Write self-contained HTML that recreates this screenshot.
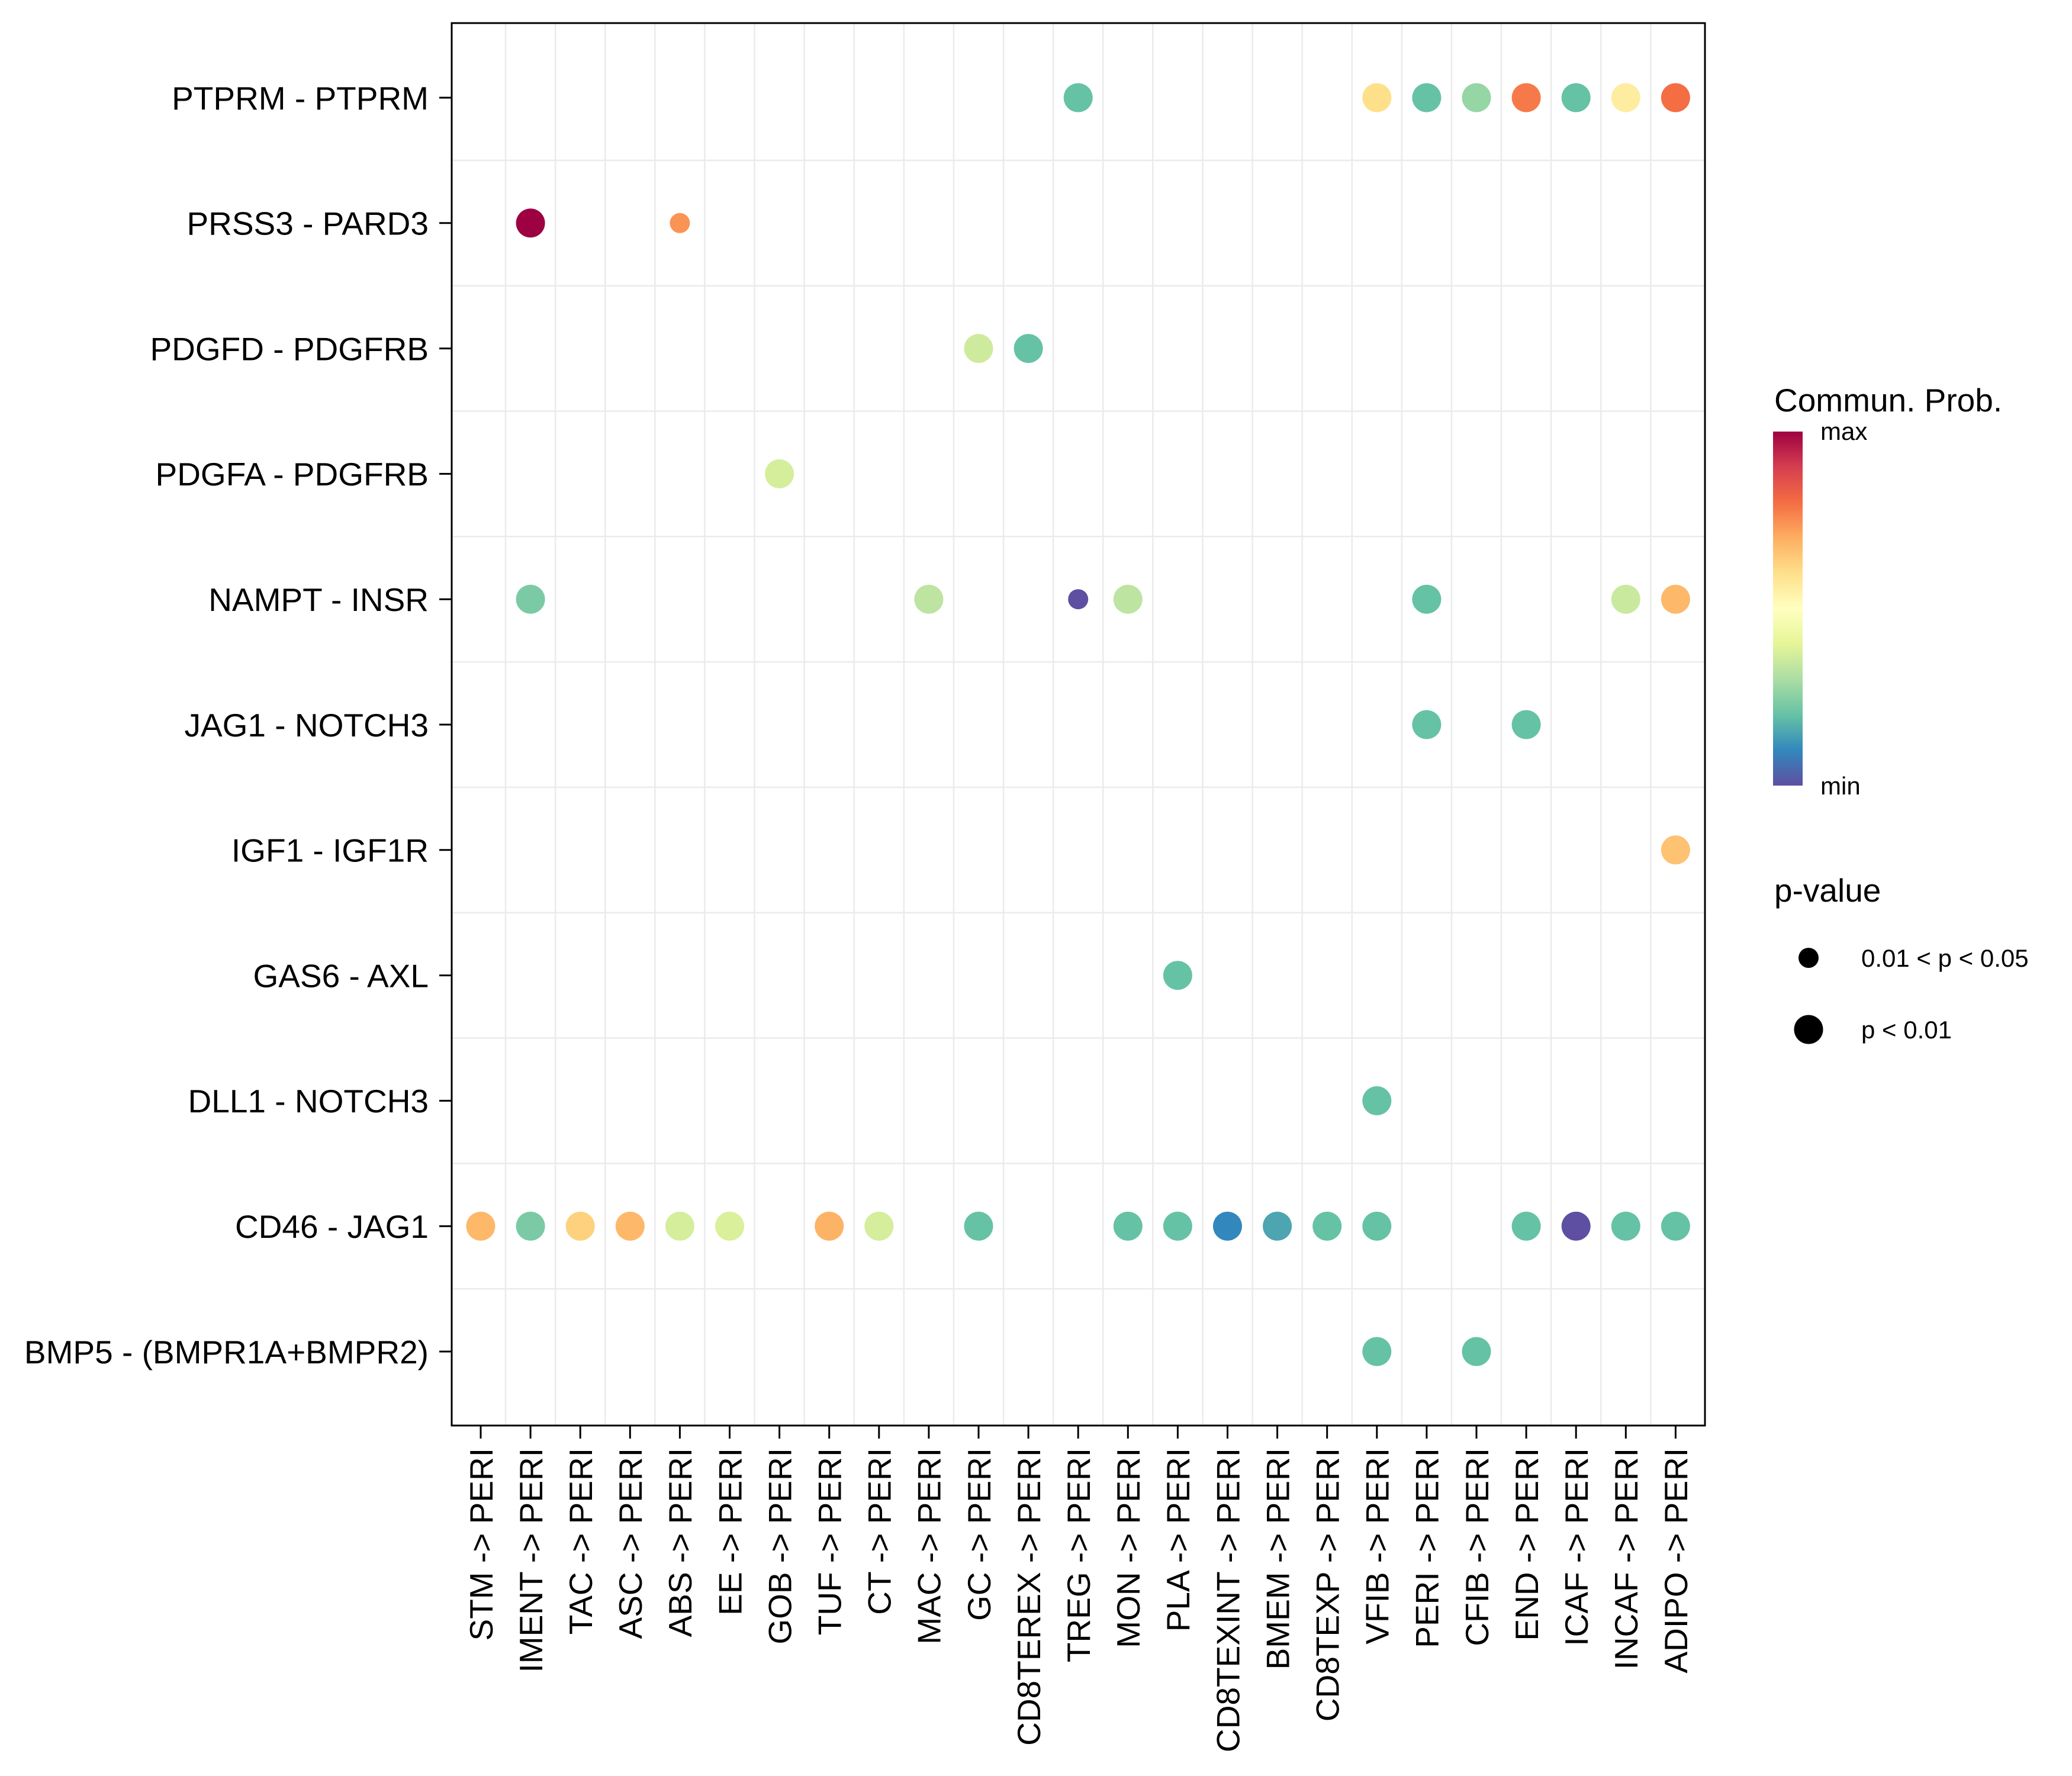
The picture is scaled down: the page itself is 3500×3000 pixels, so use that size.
<!DOCTYPE html>
<html><head><meta charset="utf-8"><style>
html,body{margin:0;padding:0;background:#fff;}
svg{display:block;font-family:"Liberation Sans",Arial,sans-serif;}
</style></head>
<body>
<svg id="chart" xmlns="http://www.w3.org/2000/svg" width="3500" height="3000" viewBox="0 0 3500 3000">
<defs>
<linearGradient id="spec" x1="0" y1="1" x2="0" y2="0">
<stop offset="0" stop-color="#5E4FA2"/><stop offset="0.1" stop-color="#3288BD"/><stop offset="0.2" stop-color="#66C2A5"/><stop offset="0.3" stop-color="#ABDDA4"/><stop offset="0.4" stop-color="#E6F598"/><stop offset="0.5" stop-color="#FFFFBF"/><stop offset="0.6" stop-color="#FEE08B"/><stop offset="0.7" stop-color="#FDAE61"/><stop offset="0.8" stop-color="#F46D43"/><stop offset="0.9" stop-color="#D53E4F"/><stop offset="1" stop-color="#9E0142"/>
</linearGradient>
</defs>
<rect x="0" y="0" width="3500" height="3000" fill="#fff"/>
<g id="grid"></g>
<g id="dots"></g>
<rect x="763" y="39" width="2117" height="2369" fill="none" stroke="#000" stroke-width="3"/>
<g id="yaxis"></g>
<g id="xaxis"></g>
<g>
<text x="2997" y="695" font-size="55">Commun. Prob.</text>
<rect x="2995" y="729" width="50" height="598" fill="url(#spec)"/>
<text x="3075" y="743" font-size="42">max</text>
<text x="3075" y="1342" font-size="42">min</text>
</g>
<g>
<text x="2997" y="1523" font-size="55">p-value</text>
<circle cx="3055" cy="1618" r="17" fill="#000"/>
<text x="3144" y="1633" font-size="42">0.01 &lt; p &lt; 0.05</text>
<circle cx="3055" cy="1739" r="24.5" fill="#000"/>
<text x="3144" y="1754" font-size="42">p &lt; 0.01</text>
</g>
</svg>
<script>
const pairs = ["PTPRM - PTPRM","PRSS3 - PARD3","PDGFD - PDGFRB","PDGFA - PDGFRB","NAMPT - INSR","JAG1 - NOTCH3","IGF1 - IGF1R","GAS6 - AXL","DLL1 - NOTCH3","CD46 - JAG1","BMP5 - (BMPR1A+BMPR2)"];
const sources = ["STM","IMENT","TAC","ASC","ABS","EE","GOB","TUF","CT","MAC","GC","CD8TEREX","TREG","MON","PLA","CD8TEXINT","BMEM","CD8TEXP","VFIB","PERI","CFIB","END","ICAF","INCAF","ADIPO"];
const target = "PERI";
const dotPair = ["PTPRM - PTPRM","PTPRM - PTPRM","PTPRM - PTPRM","PTPRM - PTPRM","PTPRM - PTPRM","PTPRM - PTPRM","PTPRM - PTPRM","PTPRM - PTPRM",
"PRSS3 - PARD3","PRSS3 - PARD3",
"PDGFD - PDGFRB","PDGFD - PDGFRB",
"PDGFA - PDGFRB",
"NAMPT - INSR","NAMPT - INSR","NAMPT - INSR","NAMPT - INSR","NAMPT - INSR","NAMPT - INSR","NAMPT - INSR",
"JAG1 - NOTCH3","JAG1 - NOTCH3",
"IGF1 - IGF1R",
"GAS6 - AXL",
"DLL1 - NOTCH3",
"CD46 - JAG1","CD46 - JAG1","CD46 - JAG1","CD46 - JAG1","CD46 - JAG1","CD46 - JAG1","CD46 - JAG1","CD46 - JAG1","CD46 - JAG1","CD46 - JAG1","CD46 - JAG1","CD46 - JAG1","CD46 - JAG1","CD46 - JAG1","CD46 - JAG1","CD46 - JAG1","CD46 - JAG1","CD46 - JAG1","CD46 - JAG1",
"BMP5 - (BMPR1A+BMPR2)","BMP5 - (BMPR1A+BMPR2)"];
const dotSource = ["TREG","VFIB","PERI","CFIB","END","ICAF","INCAF","ADIPO",
"IMENT","ABS",
"GC","CD8TEREX",
"GOB",
"IMENT","MAC","TREG","MON","PERI","INCAF","ADIPO",
"PERI","END",
"ADIPO",
"PLA",
"VFIB",
"STM","IMENT","TAC","ASC","ABS","EE","TUF","CT","GC","MON","PLA","CD8TEXINT","BMEM","CD8TEXP","VFIB","END","ICAF","INCAF","ADIPO",
"VFIB","CFIB"];
const dotProb = [0.2,0.6,0.2,0.27,0.78,0.2,0.56,0.8,
1.0,0.74,
0.36,0.2,
0.37,
0.23,0.33,0.0,0.33,0.2,0.35,0.68,
0.2,0.2,
0.66,
0.2,
0.2,
0.68,0.23,0.63,0.68,0.37,0.38,0.69,0.37,0.2,0.2,0.2,0.1,0.15,0.2,0.2,0.2,0.0,0.2,0.2,
0.2,0.2];
const dotSig = ["p<0.01","p<0.01","p<0.01","p<0.01","p<0.01","p<0.01","p<0.01","p<0.01",
"p<0.01","0.01<p<0.05",
"p<0.01","p<0.01",
"p<0.01",
"p<0.01","p<0.01","0.01<p<0.05","p<0.01","p<0.01","p<0.01","p<0.01",
"p<0.01","p<0.01",
"p<0.01",
"p<0.01",
"p<0.01",
"p<0.01","p<0.01","p<0.01","p<0.01","p<0.01","p<0.01","p<0.01","p<0.01","p<0.01","p<0.01","p<0.01","p<0.01","p<0.01","p<0.01","p<0.01","p<0.01","p<0.01","p<0.01","p<0.01",
"p<0.01","p<0.01"];

const NS="http://www.w3.org/2000/svg";
const X0=812, XSTEP=84.1, Y0=165, YSTEP=211.8;
const PL=763, PR=2880, PT=39, PB=2408;
function xs(i){return X0+XSTEP*i;}
function ys(i){return Y0+YSTEP*i;}
const pal=["#5E4FA2","#3288BD","#66C2A5","#ABDDA4","#E6F598","#FFFFBF","#FEE08B","#FDAE61","#F46D43","#D53E4F","#9E0142"];
function hex(h){return [1,3,5].map(k=>parseInt(h.substr(k,2),16));}
function colorScale(v){
  v=Math.max(0,Math.min(1,v));const p=v*10;const i=Math.min(9,Math.floor(p));const t=p-i;
  const a=hex(pal[i]),b=hex(pal[i+1]);
  return "rgb("+a.map((c,k)=>Math.round(c+(b[k]-c)*t)).join(",")+")";
}
function sizeScale(s){return s==="p<0.01"?24.5:17;}
function mk(tag,attrs){const e=document.createElementNS(NS,tag);for(const k in attrs)e.setAttribute(k,attrs[k]);return e;}

const grid=document.getElementById('grid');
for(let i=0;i<sources.length-1;i++){
  const l=mk('line',{x1:xs(i+0.5),x2:xs(i+0.5),y1:PT,y2:PB,stroke:'#ebebeb','stroke-width':2.5});
  
  
  grid.appendChild(l);
}
for(let i=0;i<pairs.length-1;i++){
  const l=mk('line',{x1:PL,x2:PR,y1:ys(i+0.5),y2:ys(i+0.5),stroke:'#ebebeb','stroke-width':2.5});
  
  
  grid.appendChild(l);
}
const yaxis=document.getElementById('yaxis');
pairs.forEach((p,i)=>{
  const t=mk('line',{x1:742,x2:PL,y1:ys(i),y2:ys(i),stroke:'#000','stroke-width':3});
  
  
  yaxis.appendChild(t);
  const tx=mk('text',{x:724,y:ys(i),'font-size':55,'text-anchor':'end',dy:'0.36em'});
  tx.textContent=p;
  
  
  yaxis.appendChild(tx);
});
const xaxis=document.getElementById('xaxis');
sources.forEach((s,i)=>{
  const t=mk('line',{x1:xs(i),x2:xs(i),y1:PB,y2:2430,stroke:'#000','stroke-width':3});
  
  
  xaxis.appendChild(t);
  const tx=mk('text',{transform:'translate('+xs(i)+',2446) rotate(-90)','font-size':55,'text-anchor':'end',dy:'0.36em'});
  tx.textContent=s+" -> "+target;
  
  
  xaxis.appendChild(tx);
});
const dots=document.getElementById('dots');
for(let k=0;k<dotPair.length;k++){
  const r=pairs.indexOf(dotPair[k]), c=sources.indexOf(dotSource[k]);
  const d=mk('circle',{cx:xs(c),cy:ys(r),r:sizeScale(dotSig[k]),fill:colorScale(dotProb[k])});
  
  
  dots.appendChild(d);
}
</script>
</body></html>
